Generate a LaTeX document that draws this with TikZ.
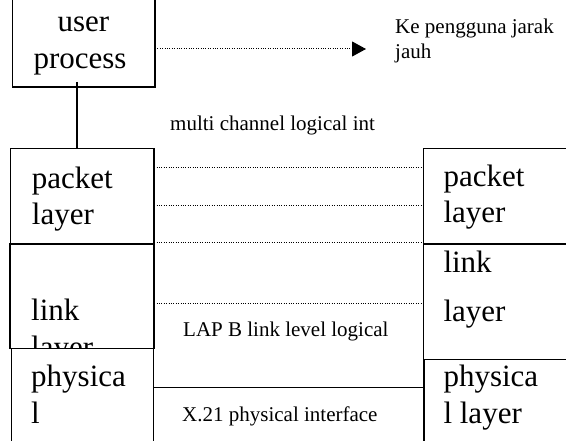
\documentclass[tikz,border=0pt]{standalone}
\usepackage{fontspec}
\setmainfont{Liberation Serif}
\usetikzlibrary{arrows.meta}
\begin{document}
\begin{tikzpicture}[x=1pt,y=-1pt,
  box/.style={draw,line width=1.5pt,fill=white,inner sep=0pt,outer sep=0pt,anchor=north west},
  big/.style={font=\fontsize{31}{36}\selectfont,inner sep=0pt,anchor=base west},
  bigc/.style={font=\fontsize{31}{36}\selectfont,inner sep=0pt,anchor=base},
  small/.style={font=\fontsize{21}{25}\selectfont,inner sep=0pt,anchor=base west},
  dots/.style={line width=1pt,dash pattern=on 1pt off 1.4pt},
  solidline/.style={line width=1.5pt}]
\clip (0,0) rectangle (566,441);
% user process
\node[box,minimum width=142.7pt,minimum height=92pt] (up) at (12.3,-5) {};
\node[bigc] (tuser) at (83.5,31.7) {user};
\node[bigc] (tproc) at (80,69) {process};
% left stack
\node[box,minimum width=143.5pt,minimum height=95.7pt] (lp) at (10.5,148.3) {};
\node[big] (lp1) at (31.7,188.3) {packet};
\node[big] (lp2) at (31.7,225) {layer};
\node[box,minimum width=144pt,minimum height=104.7pt] (ll) at (10,244) {};
\node[big] (ll1) at (31,320.7) {link};
\node[big] (ll2) at (31,357.7) {layer};
\node[box,minimum width=142pt,minimum height=100pt] (lph) at (11.5,348.7) {};
\node[big] (lph1) at (31,386.7) {physica};
\node[big] (lph2) at (31,423.3) {l};
% right stack
\node[box,minimum width=150pt,minimum height=95.7pt] (rp) at (423.5,148.3) {};
\node[big] (rp1) at (443.3,186.7) {packet};
\node[big] (rp2) at (443.3,223) {layer};
\node[box,minimum width=150pt,minimum height=115.5pt] (rl) at (423.5,244) {};
\node[big] (rl1) at (443.3,273) {link};
\node[big] (rl2) at (443.3,321.7) {layer};
\node[box,minimum width=150pt,minimum height=90pt] (rph) at (424,359.5) {};
\node[big] (rph1) at (443.3,386.7) {physica};
\node[big] (rph2) at (443.3,423.3) {l layer};
% small labels
\node[small] (ke1) at (395,34) {Ke pengguna jarak};
\node[small] (ke2) at (395,59) {jauh};
\node[small] (multi) at (170,131) {multi channel logical int};
\node[small] (lapb) at (183,336.7) {LAP B link level logical};
\node[small] (x21) at (182,421.7) {X.21 physical interface};
% helper coordinates
\coordinate (ya) at (0,49);
\coordinate (tip) at (366,49);
\coordinate (vx) at (77,82);
\coordinate (y1) at (0,167.3);
\coordinate (y2) at (0,205.3);
\coordinate (y3) at (0,242.3);
\coordinate (y4) at (0,303.3);
\coordinate (y5) at (0,387.7);
% connectors
\draw[dots,-{Triangle[length=14pt,width=15pt]}] (up.east |- ya) -- (tip);
\draw[solidline] (vx) -- (vx |- lp.north);
\draw[dots] ([xshift=2.5pt]lp.east |- y1) -- (rp.west |- y1);
\draw[dots] ([xshift=2.5pt]lp.east |- y2) -- (rp.west |- y2);
\draw[dots] ([xshift=2.5pt]lp.east |- y3) -- (rp.west |- y3);
\draw[dots] ([xshift=2.5pt]ll.east |- y4) -- (rl.west |- y4);
\draw[solidline] (lph.east |- y5) -- (rph.west |- y5);
\end{tikzpicture}
\end{document}
